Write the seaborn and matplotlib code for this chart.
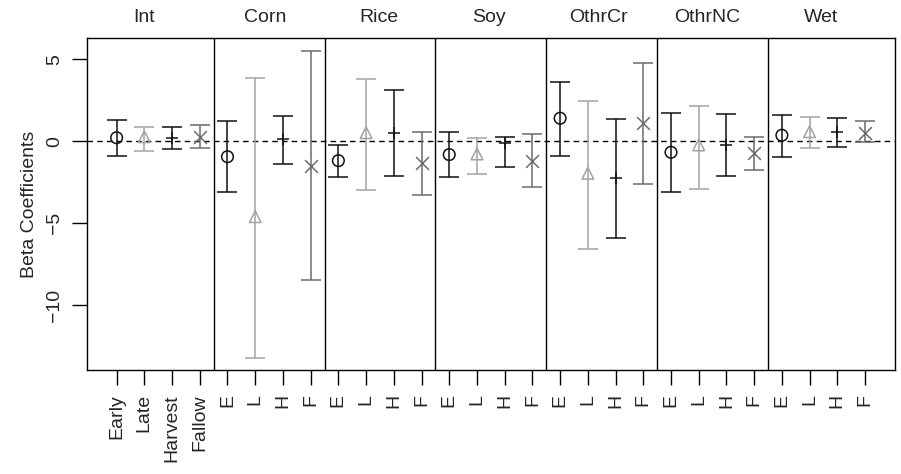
import numpy as np
import pandas as pd
import matplotlib
matplotlib.use("Agg")
import matplotlib.pyplot as plt
import seaborn as sns

# Panels (land cover types) and seasons
panels = ['Int', 'Corn', 'Rice', 'Soy', 'OthrCr', 'OthrNC', 'Wet']
seasons = ['Early', 'Late', 'Harvest', 'Fallow']
short_labels = ['E', 'L', 'H', 'F']

# beta estimates, one list per season, in panel order
est_early   = [0.21, -0.95, -1.19, -0.82, 1.40, -0.68, 0.36]
est_late    = [0.27, -4.61, 0.52, -0.78, -1.96, -0.23, 0.58]
est_harvest = [0.18, 0.11, 0.50, -0.09, -2.27, -0.23, 0.58]
est_fallow  = [0.27, -1.51, -1.35, -1.21, 1.09, -0.74, 0.52]

# lower / upper interval limits
lo_early   = [-0.88, -3.10, -2.17, -2.17, -0.88, -3.10, -0.95]
hi_early   = [1.29, 1.23, -0.23, 0.56, 3.63, 1.74, 1.60]
lo_late    = [-0.58, -13.26, -2.98, -2.00, -6.58, -2.92, -0.42]
hi_late    = [0.87, 3.88, 3.82, 0.20, 2.47, 2.15, 1.50]
lo_harvest = [-0.50, -1.39, -2.10, -1.59, -5.91, -2.12, -0.34]
hi_harvest = [0.85, 1.54, 3.11, 0.26, 1.36, 1.66, 1.44]
lo_fallow  = [-0.44, -8.47, -3.26, -2.78, -2.61, -1.74, -0.03]
hi_fallow  = [0.99, 5.51, 0.58, 0.44, 4.79, 0.27, 1.25]

rows = []
for s, (est, lo, hi) in enumerate([(est_early, lo_early, hi_early),
                                   (est_late, lo_late, hi_late),
                                   (est_harvest, lo_harvest, hi_harvest),
                                   (est_fallow, lo_fallow, hi_fallow)]):
    for p in range(len(panels)):
        rows.append({'panel': panels[p], 'season': seasons[s],
                     'pos': p * 4 + s + 1, 'est': est[p], 'lo': lo[p], 'hi': hi[p]})
df = pd.DataFrame(rows).sort_values('pos')

sns.set_style("ticks")
plt.rcParams['font.family'] = ['Liberation Sans', 'DejaVu Sans']

fig = plt.figure(figsize=(9.01, 4.74), dpi=100)
ax = fig.add_axes([0.0962, 0.2184, 0.8971, 0.7008])

styles = {'Early': ('o', '#111111'), 'Late': ('^', '#a3a3a3'),
          'Harvest': ('+', '#111111'), 'Fallow': ('x', '#6b6b6b')}

ax.axhline(0, color='black', ls=(0, (4, 3)), lw=1.0, zorder=1)

for season in seasons:
    mk, col = styles[season]
    d = df[df['season'] == season]
    ax.errorbar(d['pos'], d['est'], yerr=[d['est'] - d['lo'], d['hi'] - d['est']],
                fmt='none', ecolor=col, elinewidth=1.1, capsize=7.5, capthick=1.1, zorder=2)
    if mk in ('o', '^'):
        sns.scatterplot(data=d, x='pos', y='est', marker=mk, s=70, facecolor='none',
                        edgecolor=col, linewidth=1.1, ax=ax, zorder=3, legend=False)
    else:
        sns.scatterplot(data=d, x='pos', y='est', marker=mk, s=85, color=col,
                        linewidth=1.1, ax=ax, zorder=3, legend=False)

# panel separators
for k in range(1, len(panels)):
    ax.axvline(k * 4 + 0.5, color='black', lw=1.0, zorder=1)

ax.set_xlim(1 - 1.08, 28 + 1.08)
ax.set_ylim(-14.0, 6.28)

ax.set_xticks(range(1, 29))
ax.set_xticklabels(seasons + short_labels * 6, rotation=90, fontsize=14)
ax.set_yticks([-10, -5, 0, 5])
ax.set_yticklabels(['\u221210', '\u22125', '0', '5'], rotation=90, fontsize=14, va='center')
ax.tick_params(axis='both', length=11, width=1.0, color='black', pad=6)
ax.set_xlabel('')
ax.set_ylabel('Beta Coefficients', fontsize=14, labelpad=6)

for sp in ax.spines.values():
    sp.set_visible(True)
    sp.set_linewidth(1.0)
    sp.set_color('black')

title_pos = [2.0, 6.35, 10.45, 14.45, 18.4, 22.3, 26.4]
for name, xp in zip(panels, title_pos):
    ax.text(xp, 1.062, name, transform=ax.get_xaxis_transform(),
            ha='center', va='center', fontsize=14)

fig.savefig('out.png', dpi=100)
